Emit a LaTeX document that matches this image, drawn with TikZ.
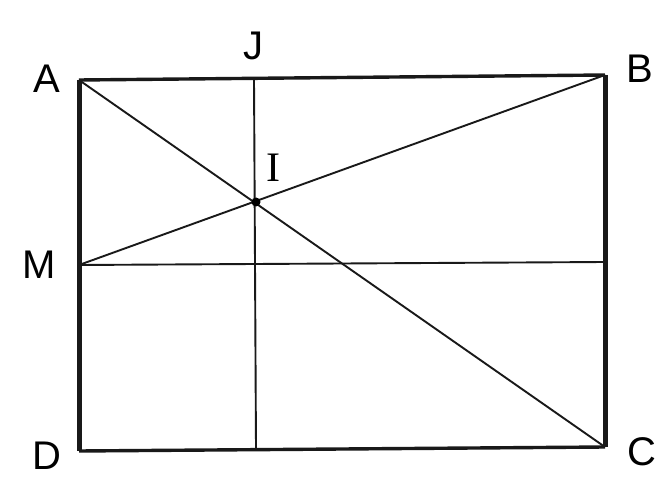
\documentclass[tikz,border=0pt]{standalone}
\usepackage{fontspec}
\setmainfont{Liberation Sans}
\newfontfamily\iserif{Liberation Serif}
\begin{document}
\begin{tikzpicture}[x=1pt,y=-1pt,
  thinline/.style={line width=1.9pt,black!90},
  edge/.style={line width=3.4pt,black!90},
  thickedge/.style={line width=5pt,black!90},
  lbl/.style={font=\fontsize{40}{40}\selectfont,inner sep=0pt}]
\fill[white] (0,0) rectangle (672,481);
\useasboundingbox (0,0) rectangle (672,481);
\coordinate (A) at (79,80);
\coordinate (B) at (605,75);
\coordinate (C) at (605,447);
\coordinate (D) at (79,451);
\coordinate (M) at (79,265);
\coordinate (R) at (605,262);
\coordinate (J) at (254,79);
\coordinate (K) at (256,449);
\coordinate (I) at (256,202);
% thin lines
\draw[thinline] (A) -- (C);
\draw[thinline] (M) -- (B);
\draw[thinline] (M) -- (R);
\draw[thinline] (J) -- (K);
% edges
\draw[edge] (A) -- (B);
\draw[edge] (D) -- (C);
\draw[thickedge] (A) -- (D);
\draw[thickedge] (B) -- (C);
\fill (I) circle (4.5pt);
% labels
\node[lbl] (lA) at (47,79) {A};
\node[lbl] (lJ) at (253,46) {J};
\node[lbl,font=\fontsize{42}{42}\selectfont\iserif] (lI) at (273,168) {I};
\node[lbl] (lB) at (640,69) {B};
\node[lbl] (lM) at (39,265) {M};
\node[lbl] (lD) at (47,456) {D};
\node[lbl] (lC) at (642,452) {C};
\end{tikzpicture}
\end{document}
